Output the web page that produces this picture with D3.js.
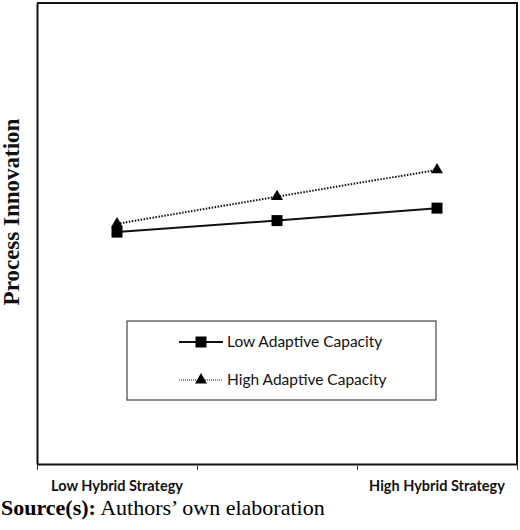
<!DOCTYPE html>
<html>
<head>
<meta charset="utf-8">
<script src="https://cdn.jsdelivr.net/npm/d3@7"></script>
<style>
  body { margin: 0; background: #fff; }
  svg { display: block; }
</style>
</head>
<body>
<div id="chart"></div>
<script>
// categories on the x axis (middle one has no label)
var categories = ["Low Hybrid Strategy", "", "High Hybrid Strategy"];
var seriesNames = ["Low Adaptive Capacity", "High Adaptive Capacity"];
var lowAdaptive = [5.03, 5.28, 5.55];
var highAdaptive = [5.21, 5.80, 6.38];

(function() {
  var width = 520,
      height = 530,
      plotLeft = 37,
      plotRight = 517,
      plotTop = 3,
      plotBottom = 464;

  var svg = d3.select("#chart")
    .append("svg")
    .attr("width", width)
    .attr("height", height);

  var x = d3.scaleBand()
    .domain(d3.range(categories.length))
    .range([plotLeft, plotRight])
    .padding(0);

  // boundaries between categories, for the tick marks
  var xTicks = d3.scaleLinear()
    .domain([0, categories.length])
    .range([plotLeft, plotRight]);

  var y = d3.scaleLinear()
    .domain([0, 10])
    .range([plotBottom, plotTop]);

  // frame: top and right edges
  svg.append("path")
    .attr("d", "M" + plotLeft + "," + plotTop + "H" + plotRight + "V" + plotBottom)
    .attr("fill", "none")
    .attr("stroke", "#111")
    .attr("stroke-width", 2);

  // y axis (no ticks)
  svg.append("g")
    .attr("transform", "translate(" + plotLeft + ",0)")
    .call(d3.axisLeft(y).tickValues([]).tickSizeOuter(0))
    .select(".domain")
    .attr("stroke", "#111")
    .attr("stroke-width", 2);

  // x axis with tick marks at the category boundaries
  var xAxis = svg.append("g")
    .attr("transform", "translate(0," + plotBottom + ")")
    .call(d3.axisBottom(xTicks).tickValues(d3.range(categories.length + 1)).tickFormat("").tickSize(6).tickSizeOuter(0));
  xAxis.select(".domain").attr("stroke", "#111").attr("stroke-width", 2);
  xAxis.selectAll(".tick line").attr("stroke", "#333").attr("stroke-width", 1);

  svg.selectAll(".cat-label")
    .data(categories)
    .enter().append("text")
    .attr("class", "cat-label")
    .attr("x", function(d, i) { return x(i) + x.bandwidth() / 2; })
    .attr("y", 490.5)
    .attr("text-anchor", "middle")
    .style("font-family", "Lato, 'Open Sans', sans-serif")
    .style("font-weight", "bold")
    .style("font-size", "14.5px")
    .style("fill", "#111")
    .text(function(d) { return d; });

  // y axis title
  svg.append("text")
    .attr("transform", "translate(19,212)rotate(-90)")
    .attr("text-anchor", "middle")
    .style("font-family", "'Liberation Serif', 'Times New Roman', serif")
    .style("font-weight", "bold")
    .style("font-size", "23px")
    .style("fill", "#111")
    .text("Process Innovation");

  var line = d3.line()
    .x(function(d, i) { return x(i) + x.bandwidth() / 2; })
    .y(function(d) { return y(d); });

  svg.append("path")
    .datum(highAdaptive)
    .attr("d", line)
    .attr("fill", "none")
    .attr("stroke", "#111")
    .attr("stroke-width", 2)
    .attr("stroke-dasharray", "1.5,1.5");

  svg.append("path")
    .datum(lowAdaptive)
    .attr("d", line)
    .attr("fill", "none")
    .attr("stroke", "#111")
    .attr("stroke-width", 2);

  var tri = d3.symbol().type(d3.symbolTriangle).size(62);
  var sq = d3.symbol().type(d3.symbolSquare).size(121);

  svg.selectAll(".tri")
    .data(highAdaptive)
    .enter().append("path")
    .attr("class", "tri")
    .attr("d", tri)
    .attr("fill", "#000")
    .attr("transform", function(d, i) { return "translate(" + (x(i) + x.bandwidth() / 2) + "," + y(d) + ")"; });

  svg.selectAll(".sq")
    .data(lowAdaptive)
    .enter().append("path")
    .attr("class", "sq")
    .attr("d", sq)
    .attr("fill", "#000")
    .attr("transform", function(d, i) { return "translate(" + (x(i) + x.bandwidth() / 2) + "," + y(d) + ")"; });

  // legend
  var legend = svg.append("g");
  legend.append("rect")
    .attr("x", 127)
    .attr("y", 321)
    .attr("width", 309)
    .attr("height", 79)
    .attr("fill", "#fff")
    .attr("stroke", "#444")
    .attr("stroke-width", 1.2);

  var items = legend.selectAll(".item")
    .data(seriesNames)
    .enter().append("g")
    .attr("class", "item")
    .attr("transform", function(d, i) { return "translate(0," + (342 + i * 38) + ")"; });

  items.append("line")
    .attr("x1", 179)
    .attr("x2", 223)
    .attr("stroke", "#111")
    .attr("stroke-width", function(d, i) { return i === 0 ? 2 : 1; })
    .attr("stroke-dasharray", function(d, i) { return i === 0 ? null : "1,1"; });

  items.append("path")
    .attr("d", function(d, i) { return i === 0 ? sq() : tri(); })
    .attr("transform", "translate(201,0)")
    .attr("fill", "#000");

  items.append("text")
    .attr("x", 227)
    .attr("y", 5)
    .style("font-family", "Lato, 'Open Sans', sans-serif")
    .style("font-size", "15.5px")
    .style("fill", "#111")
    .text(function(d) { return d; });

  // source note
  var note = svg.append("text")
    .attr("x", 1)
    .attr("y", 514.5)
    .style("font-family", "'Liberation Serif', 'Times New Roman', serif")
    .style("font-size", "22px")
    .style("fill", "#000");
  note.append("tspan").style("font-weight", "bold").text("Source(s):");
  note.append("tspan").text(" Authors\u2019 own elaboration");
})();
</script>
</body>
</html>
